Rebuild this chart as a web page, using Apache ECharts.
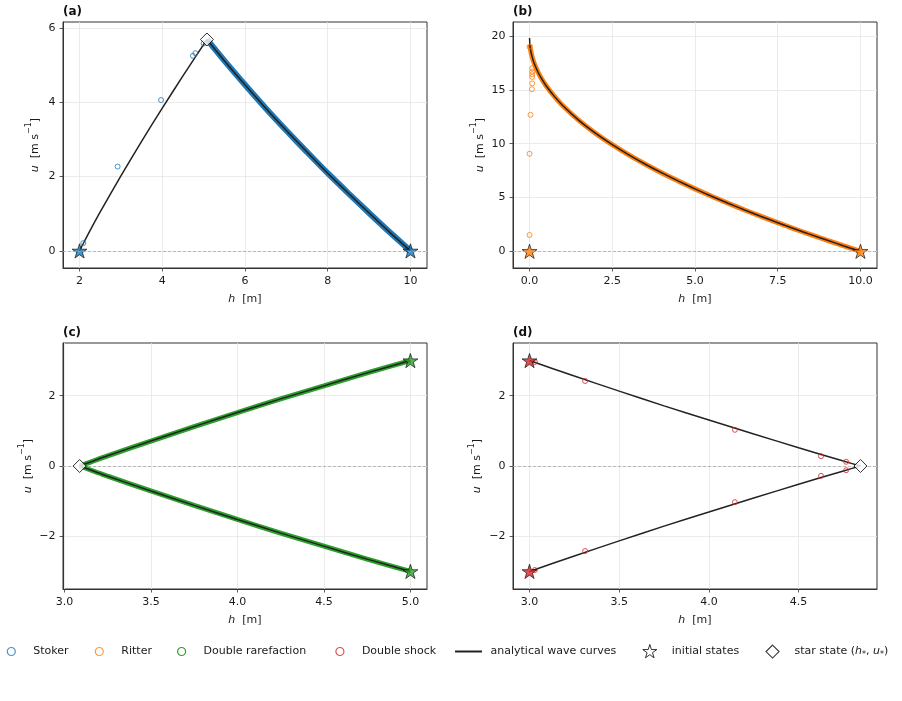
<!DOCTYPE html>
<html>
<head>
<meta charset="utf-8">
<title>Wave curves</title>
<script src="https://cdn.jsdelivr.net/npm/echarts@6/dist/echarts.min.js"></script>
<style>
html, body { margin: 0; padding: 0; background: #fff; }
#chart { width: 902px; height: 701px; }
</style>
</head>
<body>
<div id="chart"></div>
<script>
// (a) Stoker
const aRareH = [10, 9.5, 9, 8.5, 8, 7.5, 7, 6.5, 6, 5.5, 5.08];
const aRareU = [0, 0.50, 1.02, 1.55, 2.09, 2.66, 3.24, 3.84, 4.47, 5.12, 5.69];
const aShockH = [2, 2.1, 2.25, 2.5, 3, 3.5, 4, 4.5, 5.08];
const aShockU = [0, 0.22, 0.54, 1.05, 2.02, 2.95, 3.84, 4.71, 5.69];
const aDotsH = [2.09, 2.92, 3.97, 4.74, 4.80, 5.0];
const aDotsU = [0.21, 2.27, 4.06, 5.25, 5.32, 5.58];
const aInitH = [2, 10];
const aInitU = [0, 0];
const aStarH = [5.08];
const aStarU = [5.69];
const aXTicks = [2, 4, 6, 8, 10];
const aYTicks = [0, 2, 4, 6];

// (b) Ritter
const bCurveH = [0, 0.01, 0.02, 0.05, 0.1, 0.15, 0.25, 0.35, 0.5, 0.75, 1, 1.5, 2, 2.5, 3, 3.5, 4, 4.5, 5, 5.5, 6, 6.5, 7, 7.5, 8, 8.5, 9, 9.5, 10];
const bCurveU = [19.81, 19.18, 18.92, 18.41, 17.83, 17.38, 16.68, 16.10, 15.38, 14.39, 13.55, 12.14, 10.95, 9.91, 8.96, 8.09, 7.28, 6.52, 5.80, 5.12, 4.47, 3.84, 3.24, 2.66, 2.09, 1.55, 1.02, 0.50, 0];
const bDotsH = [0.0, 0.08, 0.08, 0.08, 0.08, 0.08, 0.07, 0.03, 0.0, 0.0];
const bDotsU = [19.0, 17.0, 16.7, 16.45, 16.2, 15.6, 15.06, 12.68, 9.06, 1.52];
const bInitH = [0, 10];
const bInitU = [0, 0];
const bXTicks = [0, 2.5, 5, 7.5, 10];
const bYTicks = [0, 5, 10, 15, 20];

// (c) Double rarefaction
const cH = [3.088, 3.25, 3.5, 3.75, 4, 4.25, 4.5, 4.75, 5];
const cUpU = [0, 0.29, 0.71, 1.12, 1.52, 1.91, 2.28, 2.65, 3];
const cLoU = [0, -0.29, -0.71, -1.12, -1.52, -1.91, -2.28, -2.65, -3];
const cInitH = [5, 5];
const cInitU = [3, -3];
const cStarH = [3.088];
const cStarU = [0];
const cXTicks = [3, 3.5, 4, 4.5, 5];
const cYTicks = [-2, 0, 2];

// (d) Double shock
const dH = [3, 3.25, 3.5, 3.75, 4, 4.25, 4.5, 4.75, 4.845];
const dUpU = [3, 2.56, 2.13, 1.71, 1.31, 0.91, 0.52, 0.14, 0];
const dLoU = [-3, -2.56, -2.13, -1.71, -1.31, -0.91, -0.52, -0.14, 0];
const dDotsH = [3.03, 3.31, 4.145, 4.625, 4.765, 3.03, 3.31, 4.145, 4.625, 4.765];
const dDotsU = [2.96, 2.42, 1.03, 0.28, 0.12, -2.96, -2.42, -1.03, -0.28, -0.12];
const dInitH = [3, 3];
const dInitU = [3, -3];
const dStarH = [4.845];
const dStarU = [0];
const dXTicks = [3, 3.5, 4, 4.5];
const dYTicks = [-2, 0, 2];

const BLUE = '#1f77b4', ORANGE = '#ff7f0e', GREEN = '#2ca02c', RED = '#d62728', INK = '#222';
const STAR = 'path://M50,0 L61.2,34.5 L97.6,34.5 L68.2,55.9 L79.4,90.5 L50,69.1 L20.6,90.5 L31.8,55.9 L2.4,34.5 L38.8,34.5 Z';
const DIAMOND = 'path://M5,0 L10,5 L5,10 L0,5 Z';
const BAR = 'path://M0,0 H27 V2 H0 Z';
const FONT = 'DejaVu Sans';

function pts(xs, ys) { return xs.map((x, i) => [x, ys[i]]); }

const series = [];
function band(i, name, xs, ys, color, width, zero) {
  const s = { type: 'line', name, xAxisIndex: i, yAxisIndex: i, data: pts(xs, ys), symbol: 'none',
    smooth: 0.25,
    lineStyle: { color, width }, itemStyle: { color }, z: 1, silent: true };
  if (zero) {
    s.markLine = { silent: true, symbol: 'none', label: { show: false },
      lineStyle: { color: '#aaa', type: [3, 2], width: 0.8 }, data: [{ yAxis: 0 }] };
  }
  series.push(s);
}
function curve(i, xs, ys) {
  series.push({ type: 'line', name: 'analytical wave curves', xAxisIndex: i, yAxisIndex: i, data: pts(xs, ys),
    symbol: 'none', smooth: 0.25,
    lineStyle: { color: INK, width: 1.5 }, itemStyle: { color: INK }, z: 2, silent: true });
}
function dots(i, name, xs, ys, color) {
  series.push({ type: 'scatter', name, xAxisIndex: i, yAxisIndex: i, data: pts(xs, ys), symbol: 'circle',
    symbolSize: 5, itemStyle: { color: 'rgba(255,255,255,0)', borderColor: color, borderWidth: 1 }, z: 3 });
}
function stars(i, xs, ys, color) {
  series.push({ type: 'scatter', name: 'initial states', xAxisIndex: i, yAxisIndex: i, data: pts(xs, ys),
    symbol: STAR, symbolSize: 15, symbolKeepAspect: true,
    itemStyle: { color, borderColor: '#000', borderWidth: 0.8 }, z: 4 });
}
function diamond(i, xs, ys) {
  series.push({ type: 'scatter', name: 'star state', xAxisIndex: i, yAxisIndex: i, data: pts(xs, ys),
    symbol: 'diamond', symbolSize: 13, itemStyle: { color: '#fff', borderColor: '#000', borderWidth: 1 }, z: 5 });
}

// (a)
band(0, 'Stoker band', aRareH, aRareU, BLUE, 6, true);
curve(0, aRareH, aRareU);
curve(0, aShockH, aShockU);
dots(0, 'Stoker', aDotsH, aDotsU, BLUE);
stars(0, aInitH, aInitU, BLUE);
diamond(0, aStarH, aStarU);
// (b)
band(1, 'Ritter band', bCurveH.slice(1), bCurveU.slice(1), ORANGE, 5, true);
curve(1, bCurveH, bCurveU);
dots(1, 'Ritter', bDotsH, bDotsU, ORANGE);
stars(1, bInitH, bInitU, ORANGE);
// (c)
band(2, 'Double rarefaction', cH, cUpU, GREEN, 5, true);
band(2, 'Double rarefaction', cH, cLoU, GREEN, 5, false);
curve(2, cH, cUpU);
curve(2, cH, cLoU);
stars(2, cInitH, cInitU, GREEN);
diamond(2, cStarH, cStarU);
// (d)
band(3, 'Double shock band', [], [], RED, 1, true);
curve(3, dH, dUpU);
curve(3, dH, dLoU);
dots(3, 'Double shock', dDotsH, dDotsU, RED);
stars(3, dInitH, dInitU, RED);
diamond(3, dStarH, dStarU);

const grids = [
  { left: 63, top: 22, width: 364, height: 246 },
  { left: 513, top: 22, width: 364, height: 246 },
  { left: 63, top: 343, width: 364, height: 246 },
  { left: 513, top: 343, width: 364, height: 246 }
].map(g => Object.assign(g, { show: true, borderColor: '#333', borderWidth: 1, backgroundColor: '#fff', outerBoundsMode: 'none' }));

const nameRich = {
  n: { fontSize: 11, color: '#1a1a1a', lineHeight: 20, fontFamily: FONT },
  i: { fontSize: 11, color: '#1a1a1a', lineHeight: 20, fontStyle: 'italic', fontFamily: FONT },
  s: { fontSize: 8, color: '#1a1a1a', lineHeight: 10, verticalAlign: 'top', fontFamily: FONT }
};
const tickLabel = { fontSize: 11, color: '#1a1a1a', fontFamily: FONT, margin: 7.5 };
const axisCommon = {
  type: 'value',
  axisLine: { show: true, onZero: false, lineStyle: { color: '#333', width: 1 } },
  splitLine: { show: true, lineStyle: { color: '#e6e6e6', width: 0.8 } }
};
function fmt(dec) { return v => (dec ? Number(v).toFixed(dec) : String(Math.round(v))).replace('-', '\u2212'); }

function xAxis(i, min, max, ticks, dec) {
  return Object.assign({}, axisCommon, {
    gridIndex: i, min, max, position: 'bottom',
    name: '{i|h}{n|  [m]}', nameLocation: 'middle', nameGap: 21, nameTextStyle: { rich: nameRich },
    axisTick: { show: true, length: 3.5, customValues: ticks, lineStyle: { color: '#333', width: 0.8 } },
    axisLabel: Object.assign({ customValues: ticks, formatter: fmt(dec) }, tickLabel)
  });
}
function yAxis(i, min, max, ticks, gap) {
  return Object.assign({}, axisCommon, {
    gridIndex: i, min, max, position: 'left',
    name: '{i|u}{n|  [m s}{s|\u22121}{n|]}', nameLocation: 'middle', nameGap: gap, nameTextStyle: { rich: nameRich },
    axisTick: { show: true, length: 3.5, customValues: ticks, lineStyle: { color: '#333', width: 0.8 } },
    axisLabel: Object.assign({ customValues: ticks, formatter: fmt(0) }, tickLabel)
  });
}

const titles = ['(a)', '(b)', '(c)', '(d)'].map((t, i) => ({
  text: t, left: grids[i].left, top: grids[i].top - 16, padding: 0,
  textStyle: { fontSize: 12, fontWeight: 'bold', color: '#111', fontFamily: FONT }
}));

const legRich = {
  n: { fontSize: 11, color: '#1a1a1a', fontFamily: FONT, lineHeight: 14 },
  i: { fontSize: 11, color: '#1a1a1a', fontFamily: FONT, fontStyle: 'italic', lineHeight: 14 },
  sub: { fontSize: 8, color: '#1a1a1a', fontFamily: FONT, verticalAlign: 'bottom', lineHeight: 14 }
};
function legend(name, center, icon, w, style, dy, label) {
  return {
    left: center - w / 2, top: 645.5 + dy, padding: 0, itemWidth: w, itemHeight: 14, selectedMode: false,
    symbolKeepAspect: true,
    data: [{ name, icon, itemStyle: style }],
    formatter: () => '{p|}' + (label || '{n|' + name + '}'),
    textStyle: { rich: Object.assign({}, legRich, { p: { width: center + 22 - (center + w / 2 + 5) } }) }
  };
}
const circ = c => ({ color: '#fff', borderColor: c, borderWidth: 1.2 });
const legends = [
  legend('Stoker', 10.7, 'circle', 8, circ(BLUE), 0),
  legend('Ritter', 98.7, 'circle', 8, circ(ORANGE), 0),
  legend('Double rarefaction', 181, 'circle', 8, circ(GREEN), 0),
  legend('Double shock', 339.3, 'circle', 8, circ(RED), 0),
  legend('analytical wave curves', 468.5, BAR, 27, { color: INK, borderWidth: 0 }, 0),
  legend('initial states', 649.3, STAR, 14, { color: '#fff', borderColor: '#000', borderWidth: 1 }, -1.5),
  legend('star state', 772, DIAMOND, 13, { color: '#fff', borderColor: '#000', borderWidth: 1.1 }, -1,
    '{n|star state (}{i|h}{sub|*}{n|, }{i|u}{sub|*}{n|)}')
];

const chart = echarts.init(document.getElementById('chart'), null, { renderer: 'canvas' });
chart.setOption({
  animation: false,
  backgroundColor: '#fff',
  textStyle: { fontFamily: FONT },
  title: titles,
  legend: legends,
  grid: grids,
  xAxis: [
    xAxis(0, 1.6, 10.4, aXTicks, 0),
    xAxis(1, -0.5, 10.5, bXTicks, 1),
    xAxis(2, 2.992, 5.096, cXTicks, 1),
    xAxis(3, 2.908, 4.937, dXTicks, 1)
  ],
  yAxis: [
    yAxis(0, -0.46, 6.16, aYTicks, 18),
    yAxis(1, -1.55, 21.3, bYTicks, 23),
    yAxis(2, -3.5, 3.5, cYTicks, 25),
    yAxis(3, -3.5, 3.5, dYTicks, 25.5)
  ],
  series
});
</script>
</body>
</html>
